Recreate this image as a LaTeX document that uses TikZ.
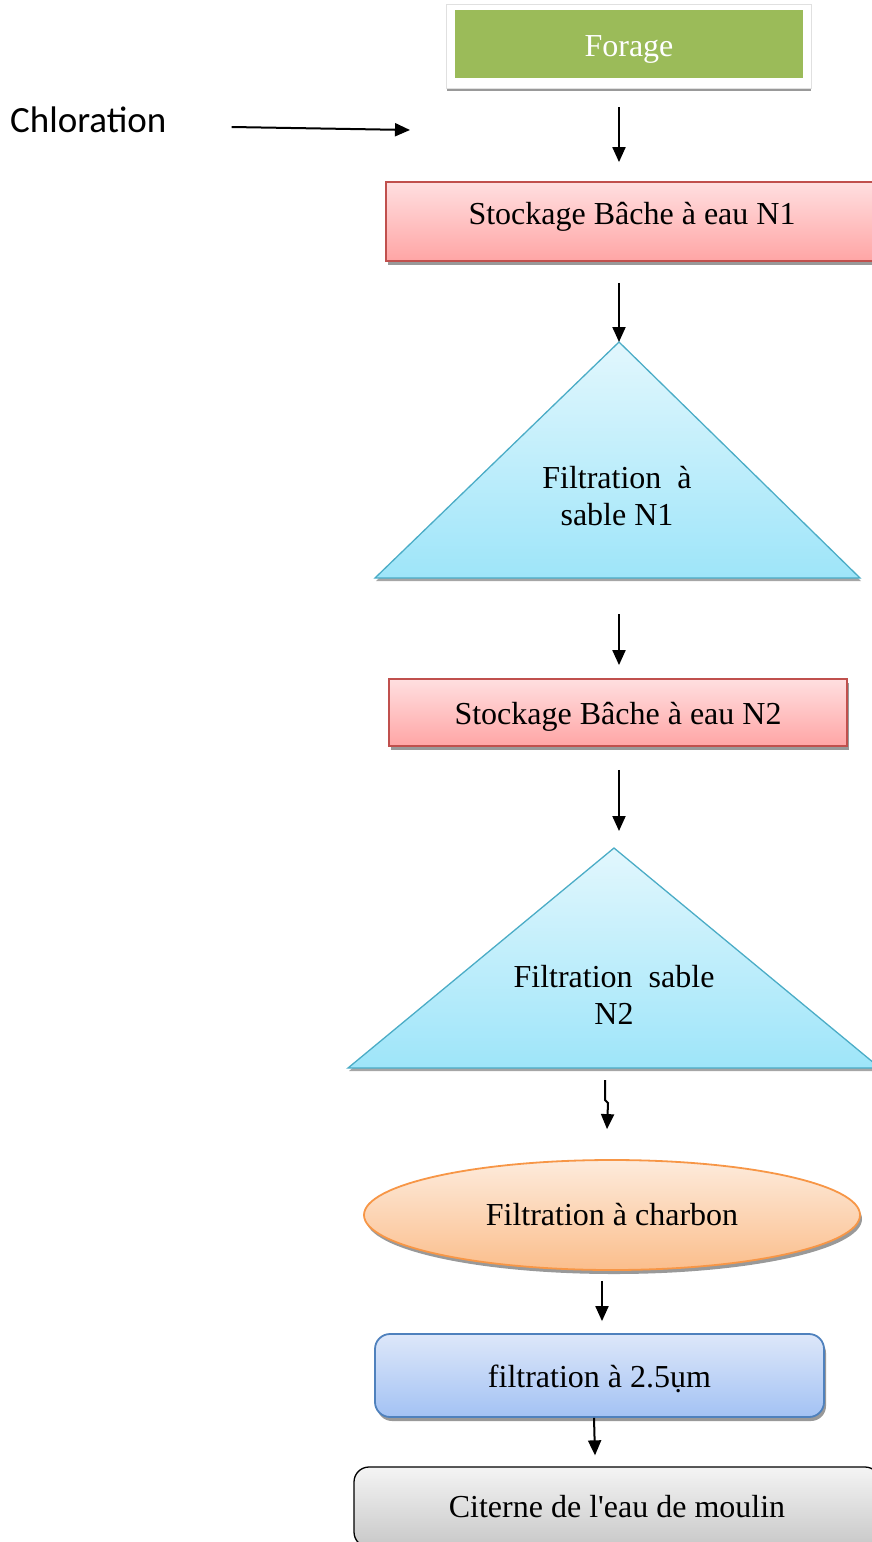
\documentclass[tikz,border=0pt]{standalone}
\usepackage{fontspec}
\setmainfont{Liberation Serif}
\newfontfamily\chlfont{Carlito}
\usetikzlibrary{shapes,arrows.meta,shadows,calc,backgrounds}
\definecolor{forageGreen}{HTML}{9BBB59}
\definecolor{stockRed}{HTML}{C0504D}
\definecolor{stockTop}{HTML}{FFDFE0}
\definecolor{stockBot}{HTML}{FFA5A5}
\definecolor{triBlue}{HTML}{4BACC6}
\definecolor{triTop}{HTML}{E2F7FD}
\definecolor{triBot}{HTML}{9EE5F9}
\definecolor{charOrange}{HTML}{F79646}
\definecolor{charTop}{HTML}{FDEBDC}
\definecolor{charBot}{HTML}{FBBE8C}
\definecolor{filtBlue}{HTML}{4F81BD}
\definecolor{filtTop}{HTML}{DDE7F9}
\definecolor{filtBot}{HTML}{A3C2F4}
\definecolor{citTop}{HTML}{F4F4F4}
\definecolor{citBot}{HTML}{C8C8C8}
\tikzstyle{txt} = [font=\fontsize{32}{37}\selectfont, text=black]
\tikzstyle{lowtext} = [text height=31pt, text depth=7pt]
\tikzstyle{forage} = [rectangle, fill=forageGreen, txt, text=white, minimum width=348pt, minimum height=68pt, lowtext]
\tikzstyle{frame} = [fill=white, draw=black!12, line width=1pt, drop shadow={shadow xshift=0pt, shadow yshift=-3pt, fill=black!40, opacity=1}]
\tikzstyle{stock} = [rectangle, draw=stockRed, line width=1.8pt, top color=stockTop, bottom color=stockBot, txt, drop shadow={shadow xshift=2pt, shadow yshift=-4pt, fill=black!40, opacity=1}]
\tikzstyle{tri} = [draw=triBlue, line width=1.3pt, top color=triTop, bottom color=triBot, drop shadow={shadow xshift=1pt, shadow yshift=-3pt, fill=black!35, opacity=1}]
\tikzstyle{tritext} = [txt, align=center, inner sep=0pt]
\tikzstyle{charbon} = [ellipse, draw=charOrange, line width=1.8pt, top color=charTop, bottom color=charBot, txt, minimum width=496pt, minimum height=110pt, inner sep=0pt, drop shadow={shadow xshift=2pt, shadow yshift=-4pt, fill=black!40, opacity=1}]
\tikzstyle{micro} = [rectangle, rounded corners=15pt, draw=filtBlue, line width=1.8pt, top color=filtTop, bottom color=filtBot, txt, minimum width=449pt, minimum height=83pt, lowtext, drop shadow={shadow xshift=2pt, shadow yshift=-4pt, fill=black!40, opacity=1}]
\tikzstyle{citerne} = [rectangle, rounded corners=15pt, draw=black, line width=1.3pt, top color=citTop, bottom color=citBot, txt, minimum width=526pt, minimum height=80pt]
\tikzstyle{chlor} = [font=\chlfont\fontsize{37}{42}\selectfont, inner sep=0pt]
\tikzstyle{line} = [draw, line width=2pt, -{Triangle[length=15pt,width=13pt]}]

\begin{document}
\begin{tikzpicture}[x=1pt, y=-1pt]
	\useasboundingbox (0,0) rectangle (872,1542);
	% Place nodes
	\node [forage] (forage) at (629,44) {Forage};
	\begin{scope}[on background layer]
		\path [frame] ($(forage.north west)+(-8,-5)$) rectangle ($(forage.south east)+(8,10)$);
	\end{scope}
	\node [chlor, anchor=west] (chlor) at (10,120) {Chloration};
	\coordinate (chlend) at (410,130);
	\node [stock, minimum width=492pt, minimum height=79pt, text depth=17pt] (stock1) at (632,221.5) {Stockage Bâche à eau N1};
	% first sand filter
	\coordinate (t1top) at (619,342);
	\coordinate (t1l) at (375,578);
	\coordinate (t1r) at (860,578);
	\path [tri] (t1top) -- (t1l) -- (t1r) -- cycle;
	\node [tritext] (filt1) at (617,496) {Filtration \ à\\sable N1};
	\node [stock, minimum width=458pt, minimum height=67pt, lowtext] (stock2) at (618,712.5) {Stockage Bâche à eau N2};
	% second sand filter
	\coordinate (t2top) at (614,848);
	\coordinate (t2l) at (348,1068);
	\coordinate (t2r) at (880,1068);
	\path [tri] (t2top) -- (t2l) -- (t2r) -- cycle;
	\node [tritext] (filt2) at (614,995) {Filtration \ sable\\N2};
	\node [charbon] (charbon) at (612,1215) {Filtration à charbon};
	\node [micro] (micro) at (599.5,1375.5) {filtration à 2.5ụm};
	\node [citerne] (citerne) at (617,1507) {Citerne de l\textquotesingle eau de moulin};
	% Draw edges
	\path [line] ($(chlor.east)+(65,7)$) -- (chlend);
	\path [line] ($(forage.south)+(-10,29)$) -- ($(stock1.north)+(-13,-19)$);
	\path [line] ($(stock1.south)+(-13,21)$) -- (t1top);
	\path [line] ($(t1top)+(0,272)$) -- ($(stock2.north)+(1,-13)$);
	\path [line] ($(stock2.south)+(1,23)$) -- ($(t2top)+(5,-17)$);
	\path [line] ($(t2top)+(-9,232)$) -- ++(0,20) -- ++(3,3) -- ($(charbon.north)+(-5,-30)$);
	\path [line] ($(charbon.south)+(-10,10)$) -- ($(micro.north)+(2.5,-12)$);
	\path [line] ($(micro.south)+(-5.5,0)$) -- ($(citerne.north)+(-22,-11)$);
\end{tikzpicture}
\end{document}
